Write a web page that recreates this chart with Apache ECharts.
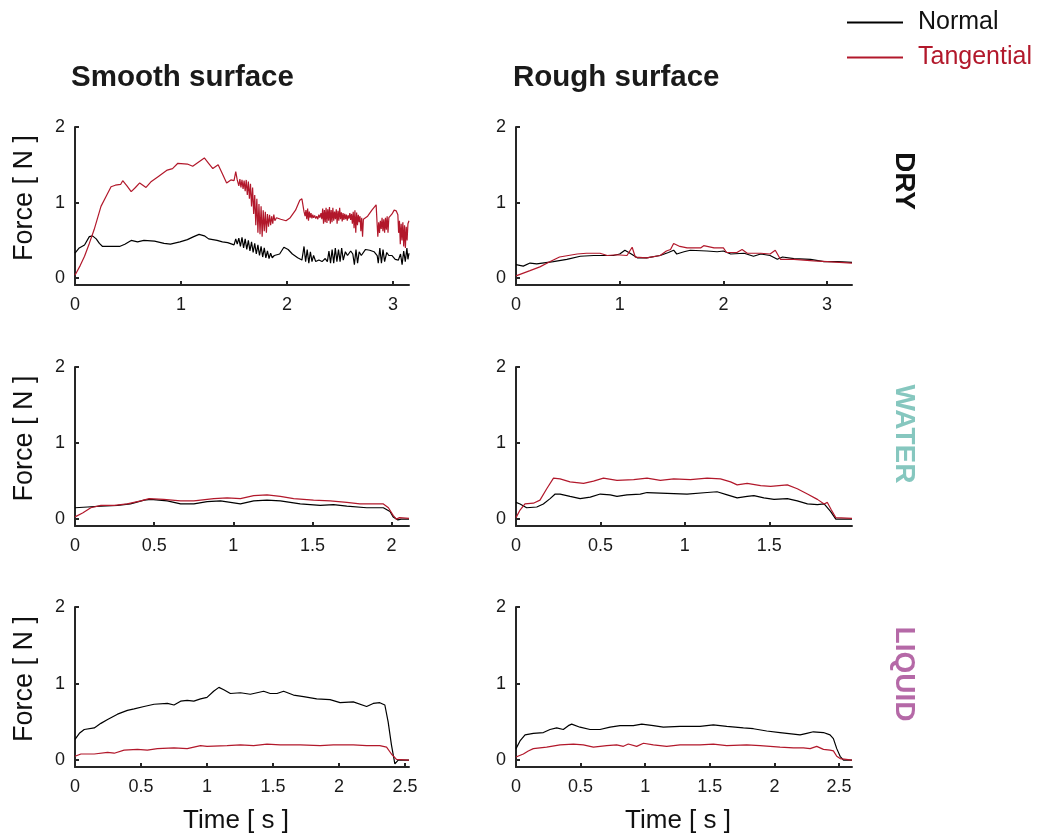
<!DOCTYPE html>
<html>
<head>
<meta charset="utf-8">
<script src="https://cdn.jsdelivr.net/npm/echarts@6/dist/echarts.min.js"></script>
<style>html,body{margin:0;padding:0;background:#fff;}#c{width:1038px;height:836px;}</style>
</head>
<body>
<div id="c"></div>
<script>
// ---- data: [time (s), force (N)] ----
const drySmoothNormal = [[0,0.33],[0.04,0.4],[0.09,0.44],[0.135,0.55],[0.165,0.56],[0.2,0.52],[0.23,0.46],[0.26,0.42],[0.35,0.42],[0.42,0.42],[0.47,0.45],[0.53,0.5],[0.59,0.48],[0.65,0.5],[0.75,0.49],[0.84,0.46],[0.9,0.45],[0.99,0.48],[1.06,0.51],[1.12,0.55],[1.17,0.58],[1.22,0.56],[1.26,0.52],[1.34,0.5],[1.39,0.48],[1.44,0.47],[1.5,0.44],[1.516,0.52],[1.53,0.45],
[1.545,0.53],[1.56,0.42],[1.575,0.54],[1.59,0.4],[1.605,0.52],[1.62,0.38],[1.635,0.5],[1.65,0.36],[1.665,0.48],[1.68,0.34],[1.695,0.46],[1.71,0.32],[1.725,0.44],[1.74,0.3],[1.755,0.42],[1.77,0.28],[1.785,0.4],[1.8,0.27],[1.815,0.36],[1.83,0.26],[1.845,0.33],[1.86,0.27],[1.88,0.3],
[1.93,0.32],[1.97,0.41],[2.01,0.38],[2.05,0.32],[2.1,0.27],[2.14,0.24],
[2.16,0.42],[2.175,0.22],[2.19,0.38],[2.205,0.2],[2.22,0.35],[2.235,0.22],[2.25,0.3],[2.27,0.22],[2.3,0.24],[2.33,0.22],[2.36,0.26],[2.38,0.22],[2.395,0.36],[2.41,0.2],[2.425,0.38],[2.44,0.2],[2.455,0.4],[2.47,0.22],[2.485,0.38],[2.5,0.22],[2.515,0.4],[2.53,0.24],[2.55,0.35],[2.57,0.3],[2.6,0.36],[2.62,0.32],[2.635,0.18],[2.65,0.38],[2.665,0.2],[2.68,0.35],[2.7,0.3],[2.74,0.38],[2.78,0.37],[2.82,0.35],[2.85,0.3],[2.86,0.2],[2.875,0.4],[2.89,0.2],[2.905,0.38],[2.92,0.22],[2.94,0.34],[2.96,0.3],[2.99,0.3],[3.02,0.25],[3.05,0.24],[3.07,0.32],[3.085,0.18],[3.1,0.36],[3.115,0.22],[3.13,0.4],[3.14,0.25],[3.15,0.33]];
const drySmoothTangential = [[0,0.04],[0.05,0.17],[0.09,0.29],[0.135,0.46],[0.18,0.64],[0.245,0.95],[0.3,1.1],[0.34,1.21],[0.38,1.23],[0.43,1.24],[0.45,1.29],[0.49,1.22],[0.53,1.145],[0.57,1.2],[0.61,1.26],[0.67,1.2],[0.72,1.28],[0.78,1.34],[0.87,1.43],[0.92,1.45],[0.97,1.52],[1.06,1.51],[1.11,1.48],[1.17,1.54],[1.22,1.59],[1.26,1.52],[1.30,1.45],[1.33,1.48],[1.35,1.5],[1.38,1.41],[1.43,1.26],[1.47,1.3],[1.5,1.29],[1.516,1.41],[1.53,1.3],
[1.545,1.22],[1.555,1.31],[1.565,1.2],[1.575,1.3],[1.585,1.18],[1.595,1.29],[1.605,1.15],[1.615,1.3],[1.625,1.1],[1.635,1.28],[1.645,1.05],[1.655,1.25],[1.665,0.95],[1.675,1.2],[1.685,0.85],[1.695,1.1],[1.705,0.7],[1.715,1.05],[1.725,0.6],[1.735,0.98],[1.745,0.58],[1.755,0.95],[1.765,0.55],[1.775,0.9],[1.785,0.62],[1.795,0.88],[1.805,0.6],[1.815,0.85],[1.825,0.68],[1.835,0.84],[1.845,0.7],[1.855,0.82],[1.865,0.72],[1.875,0.84],[1.885,0.76],[1.9,0.8],
[1.94,0.78],[1.99,0.76],[2.03,0.8],[2.08,0.9],[2.12,1.03],[2.14,1.05],[2.16,0.88],
[2.17,0.82],[2.178,0.9],[2.186,0.78],[2.194,0.92],[2.202,0.76],[2.21,0.88],[2.218,0.8],[2.226,0.86],[2.234,0.79],[2.242,0.84],[2.25,0.8],[2.26,0.83],[2.27,0.79],[2.28,0.82],[2.29,0.78],[2.3,0.84],[2.31,0.8],[2.32,0.86],[2.328,0.78],[2.336,0.92],[2.344,0.72],[2.352,0.9],[2.36,0.74],[2.368,0.93],[2.376,0.73],[2.384,0.91],[2.392,0.76],[2.4,0.94],[2.408,0.72],[2.416,0.9],[2.424,0.74],[2.432,0.93],[2.44,0.76],[2.448,0.88],[2.456,0.78],[2.464,0.91],[2.472,0.72],[2.48,0.89],[2.488,0.76],[2.496,0.93],[2.504,0.78],[2.512,0.87],[2.52,0.75],[2.528,0.86],[2.536,0.77],[2.544,0.85],[2.552,0.78],[2.56,0.84],[2.568,0.76],[2.576,0.83],[2.584,0.79],[2.592,0.86],[2.6,0.77],[2.608,0.85],[2.616,0.72],[2.624,0.88],[2.632,0.66],[2.64,0.9],[2.648,0.6],[2.656,0.87],[2.664,0.7],[2.672,0.84],[2.68,0.74],[2.688,0.82],[2.696,0.62],[2.704,0.8],[2.712,0.55],[2.72,0.78],[2.73,0.76],
[2.76,0.82],[2.8,0.9],[2.84,0.97],[2.85,0.7],[2.856,0.55],[2.864,0.74],[2.872,0.6],[2.88,0.76],[2.888,0.65],[2.896,0.8],[2.904,0.62],[2.912,0.78],[2.92,0.6],[2.928,0.8],[2.936,0.64],[2.944,0.82],[2.952,0.6],[2.96,0.8],[2.97,0.82],[2.99,0.85],[3.01,0.9],[3.03,0.89],[3.045,0.84],[3.052,0.6],[3.06,0.76],[3.068,0.45],[3.076,0.72],[3.084,0.5],[3.092,0.74],[3.1,0.42],[3.108,0.7],[3.116,0.4],[3.124,0.68],[3.132,0.5],[3.14,0.72],[3.15,0.76]];
const dryRoughNormal = [[0,0.18],[0.07,0.16],[0.135,0.2],[0.2,0.19],[0.36,0.22],[0.49,0.25],[0.62,0.29],[0.75,0.3],[0.94,0.3],[1.0,0.32],[1.05,0.37],[1.1,0.33],[1.17,0.27],[1.26,0.27],[1.39,0.3],[1.47,0.34],[1.52,0.37],[1.55,0.32],[1.62,0.35],[1.68,0.37],[1.84,0.36],[1.94,0.35],[2.0,0.36],[2.07,0.32],[2.2,0.33],[2.29,0.29],[2.36,0.32],[2.45,0.3],[2.52,0.25],[2.57,0.28],[2.68,0.26],[2.84,0.25],[2.97,0.22],[3.1,0.22],[3.24,0.21]];
const dryRoughTangential = [[0,0.03],[0.135,0.1],[0.23,0.15],[0.33,0.22],[0.42,0.28],[0.59,0.32],[0.68,0.33],[0.81,0.33],[0.88,0.3],[0.97,0.31],[1.07,0.3],[1.12,0.41],[1.15,0.28],[1.26,0.27],[1.39,0.3],[1.45,0.36],[1.49,0.38],[1.52,0.46],[1.58,0.42],[1.65,0.4],[1.78,0.4],[1.81,0.43],[1.91,0.4],[2.0,0.4],[2.03,0.34],[2.13,0.34],[2.18,0.38],[2.23,0.33],[2.36,0.33],[2.45,0.32],[2.5,0.37],[2.55,0.25],[2.68,0.25],[2.87,0.23],[3.0,0.22],[3.24,0.2]];
const waterSmoothNormal = [[0,0.15],[0.08,0.16],[0.164,0.17],[0.269,0.18],[0.35,0.2],[0.437,0.25],[0.478,0.26],[0.583,0.24],[0.667,0.2],[0.751,0.2],[0.835,0.23],[0.919,0.24],[1.045,0.2],[1.129,0.24],[1.213,0.25],[1.297,0.24],[1.423,0.2],[1.549,0.18],[1.633,0.19],[1.717,0.17],[1.843,0.15],[1.948,0.15],[1.99,0.1],[2.01,0.03],[2.04,-0.01],[2.06,0.0],[2.11,0.0]];
const waterSmoothTangential = [[0,0.03],[0.048,0.08],[0.1,0.15],[0.164,0.18],[0.248,0.18],[0.33,0.2],[0.416,0.24],[0.468,0.27],[0.56,0.26],[0.667,0.24],[0.751,0.24],[0.877,0.27],[0.961,0.28],[1.045,0.27],[1.129,0.31],[1.213,0.32],[1.297,0.3],[1.381,0.27],[1.507,0.25],[1.612,0.24],[1.717,0.22],[1.8,0.2],[1.948,0.2],[1.98,0.15],[2.01,0.05],[2.03,0.0],[2.05,0.02],[2.11,0.01]];
const waterRoughNormal = [[0,0.22],[0.024,0.2],[0.063,0.15],[0.123,0.16],[0.162,0.2],[0.202,0.27],[0.232,0.33],[0.261,0.33],[0.32,0.3],[0.38,0.27],[0.44,0.29],[0.499,0.33],[0.558,0.32],[0.598,0.3],[0.657,0.32],[0.736,0.33],[0.776,0.35],[0.895,0.34],[1.013,0.33],[1.132,0.35],[1.191,0.36],[1.251,0.32],[1.31,0.28],[1.369,0.3],[1.409,0.31],[1.468,0.28],[1.528,0.26],[1.607,0.27],[1.666,0.24],[1.726,0.2],[1.785,0.19],[1.825,0.2],[1.864,0.1],[1.894,0.0],[1.904,-0.02],[1.924,0.0],[1.99,0.0]];
const waterRoughTangential = [[0,0.02],[0.024,0.12],[0.053,0.2],[0.103,0.21],[0.142,0.25],[0.182,0.4],[0.222,0.54],[0.261,0.53],[0.32,0.49],[0.4,0.47],[0.459,0.5],[0.518,0.54],[0.598,0.51],[0.697,0.52],[0.776,0.54],[0.855,0.51],[0.934,0.53],[1.033,0.52],[1.132,0.54],[1.211,0.53],[1.271,0.49],[1.31,0.45],[1.369,0.47],[1.449,0.44],[1.508,0.43],[1.607,0.45],[1.666,0.4],[1.726,0.33],[1.785,0.26],[1.825,0.2],[1.844,0.22],[1.868,0.12],[1.894,0.02],[1.99,0.01]];
const liquidSmoothNormal = [[0,0.27],[0.033,0.35],[0.07,0.4],[0.146,0.42],[0.196,0.48],[0.247,0.53],[0.322,0.6],[0.397,0.65],[0.448,0.67],[0.523,0.7],[0.599,0.73],[0.7,0.74],[0.75,0.72],[0.8,0.77],[0.85,0.78],[0.9,0.77],[0.951,0.8],[1.0,0.82],[1.05,0.9],[1.09,0.95],[1.127,0.92],[1.177,0.87],[1.253,0.88],[1.328,0.86],[1.379,0.88],[1.429,0.9],[1.479,0.87],[1.53,0.87],[1.58,0.9],[1.655,0.85],[1.731,0.83],[1.831,0.8],[1.932,0.79],[2.008,0.75],[2.108,0.76],[2.209,0.7],[2.259,0.74],[2.309,0.75],[2.347,0.72],[2.372,0.5],[2.397,0.2],[2.423,-0.05],[2.448,0.0],[2.53,0.0]];
const liquidSmoothTangential = [[0,0.05],[0.045,0.08],[0.146,0.08],[0.247,0.1],[0.297,0.09],[0.372,0.13],[0.473,0.14],[0.548,0.13],[0.624,0.15],[0.75,0.16],[0.85,0.15],[0.951,0.19],[1.0,0.18],[1.152,0.19],[1.253,0.2],[1.353,0.19],[1.454,0.21],[1.555,0.2],[1.706,0.2],[1.857,0.19],[1.957,0.2],[2.108,0.2],[2.209,0.19],[2.309,0.19],[2.36,0.17],[2.397,0.08],[2.435,0.01],[2.53,0.0]];
const liquidRoughNormal = [[0,0.15],[0.031,0.25],[0.07,0.33],[0.134,0.35],[0.212,0.36],[0.263,0.4],[0.315,0.42],[0.366,0.4],[0.405,0.45],[0.431,0.47],[0.495,0.43],[0.573,0.4],[0.65,0.4],[0.728,0.43],[0.805,0.45],[0.908,0.45],[0.973,0.47],[1.063,0.45],[1.14,0.43],[1.269,0.44],[1.424,0.44],[1.527,0.46],[1.631,0.44],[1.76,0.42],[1.837,0.41],[1.94,0.38],[2.043,0.36],[2.147,0.34],[2.198,0.33],[2.25,0.35],[2.301,0.37],[2.379,0.36],[2.43,0.33],[2.456,0.28],[2.482,0.15],[2.508,0.05],[2.534,0.0],[2.6,0.0]];
const liquidRoughTangential = [[0,0.04],[0.057,0.08],[0.095,0.12],[0.134,0.15],[0.237,0.17],[0.341,0.2],[0.444,0.21],[0.521,0.2],[0.599,0.17],[0.702,0.19],[0.779,0.2],[0.831,0.18],[0.869,0.21],[0.934,0.18],[0.986,0.22],[1.063,0.2],[1.166,0.18],[1.269,0.2],[1.424,0.2],[1.527,0.21],[1.631,0.19],[1.785,0.2],[1.889,0.19],[2.043,0.17],[2.147,0.16],[2.224,0.16],[2.276,0.15],[2.327,0.18],[2.379,0.14],[2.43,0.13],[2.456,0.12],[2.482,0.05],[2.508,0.02],[2.6,0.0]];

const columnTitles = ['Smooth surface', 'Rough surface'];
const rowLabels = ['DRY', 'WATER', 'LIQUID'];
const seriesNames = ['Normal', 'Tangential'];
const xMax = [3.15, 3.24, 2.11, 1.99, 2.53, 2.6];
const xTicks = [[0,1,2,3],[0,1,2,3],[0,0.5,1,1.5,2],[0,0.5,1,1.5],[0,0.5,1,1.5,2,2.5],[0,0.5,1,1.5,2,2.5]];
const yTicks = [0, 1, 2];
const panels = [
  [drySmoothNormal, drySmoothTangential],
  [dryRoughNormal, dryRoughTangential],
  [waterSmoothNormal, waterSmoothTangential],
  [waterRoughNormal, waterRoughTangential],
  [liquidSmoothNormal, liquidSmoothTangential],
  [liquidRoughNormal, liquidRoughTangential]
];

const FONT = '"Liberation Sans", Arial, Helvetica, sans-serif';
const AX = '#262626';
const RED = '#b2182b';
const colLeft = [75, 516], colWidth = [334, 336];
const rowTop = [127, 367, 607], rowHeight = [158, 159, 160];

const grids = [], xAxes = [], yAxes = [], series = [];
panels.forEach((p, i) => {
  const r = Math.floor(i / 2), c = i % 2;
  grids.push({left: colLeft[c], top: rowTop[r], width: colWidth[c], height: rowHeight[r]});
  xAxes.push({
    type: 'value', gridIndex: i, min: 0, max: xMax[i],
    axisLine: {onZero: false, lineStyle: {color: AX, width: 2}},
    axisTick: {inside: true, length: 4, customValues: xTicks[i], lineStyle: {color: AX, width: 2}},
    axisLabel: {customValues: xTicks[i], fontFamily: FONT, fontSize: 18, color: '#1a1a1a', margin: 11},
    splitLine: {show: false},
    name: r === 2 ? 'Time [ s ]' : '', nameLocation: 'middle', nameGap: 41,
    nameTextStyle: {fontFamily: FONT, fontSize: 26, color: '#111', padding: [0, 12, 0, 0]}
  });
  yAxes.push({
    type: 'value', gridIndex: i, min: -0.09, max: 2,
    axisLine: {show: true, onZero: false, lineStyle: {color: AX, width: 2}},
    axisTick: {show: true, inside: true, length: 4, customValues: yTicks, lineStyle: {color: AX, width: 2}},
    axisLabel: {customValues: yTicks, fontFamily: FONT, fontSize: 18, color: '#1a1a1a', margin: 10},
    splitLine: {show: false},
    name: c === 0 ? 'Force [ N ]' : '', nameLocation: 'middle', nameGap: 37, nameRotate: 90,
    nameTextStyle: {fontFamily: FONT, fontSize: 27, color: '#111', padding: [0, 0, 0, 16]}
  });
  p.forEach((d, k) => {
    series.push({
      name: seriesNames[k], type: 'line', xAxisIndex: i, yAxisIndex: i, data: d,
      showSymbol: false, symbol: 'none', animation: false, z: 2 + k,
      lineStyle: {color: k === 0 ? '#000' : RED, width: 1.2},
      itemStyle: {color: k === 0 ? '#000' : RED}
    });
  });
});

const graphics = [];
columnTitles.forEach((t, c) => {
  graphics.push({type: 'text', x: [71, 513][c], y: 78,
    style: {text: t, font: 'bold 29.5px ' + FONT, fill: '#1a1a1a', align: 'left', verticalAlign: 'middle'}});
});
const rowColors = ['#111111', '#86c7bf', '#b569a7'];
const rowY = [181, 434, 674];
rowLabels.forEach((t, r) => {
  graphics.push({type: 'text', x: 904, y: rowY[r], rotation: -Math.PI / 2,
    style: {text: t, font: 'bold 28px ' + FONT, fill: rowColors[r], align: 'center', verticalAlign: 'middle'}});
});

const chart = echarts.init(document.getElementById('c'), null, {renderer: 'canvas'});
chart.setOption({
  animation: false,
  backgroundColor: '#fff',
  grid: grids, xAxis: xAxes, yAxis: yAxes, series: series,
  legend: {
    orient: 'vertical', left: 847, top: 10, padding: 0, itemGap: 10,
    itemWidth: 56, itemHeight: 2, icon: 'rect',
    textStyle: {fontFamily: FONT, fontSize: 25, lineHeight: 25, padding: [0, 0, 0, 10]},
    data: [{name: 'Normal', textStyle: {color: '#111'}}, {name: 'Tangential', textStyle: {color: RED}}]
  },
  graphic: graphics
});
</script>
</body>
</html>
